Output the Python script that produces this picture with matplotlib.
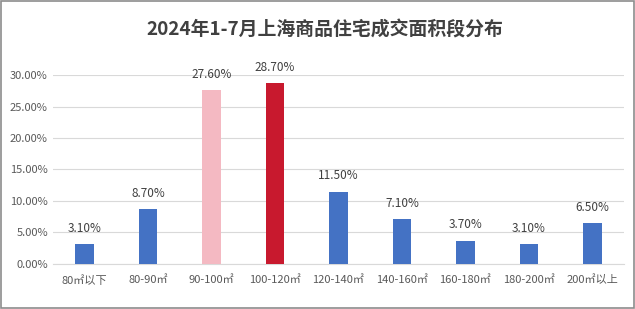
import matplotlib
matplotlib.use('Agg')
import matplotlib.pyplot as plt
from matplotlib.patches import Rectangle

plt.rcParams['font.family'] = ['Noto Sans CJK SC', 'DejaVu Sans']

categories = ['80㎡以下', '80-90㎡', '90-100㎡', '100-120㎡', '120-140㎡',
              '140-160㎡', '160-180㎡', '180-200㎡', '200㎡以上']
shares = [3.1, 8.7, 27.6, 28.7, 11.5, 7.1, 3.7, 3.1, 6.5]
colors = ['#4472C4', '#4472C4', '#F4B9C2', '#C8192E', '#4472C4',
          '#4472C4', '#4472C4', '#4472C4', '#4472C4']

fig = plt.figure(figsize=(6.35, 3.09), dpi=100)
ax = fig.add_axes([0.083, 0.146, 0.9, 0.611])

x = range(len(categories))
ax.bar(x, shares, width=0.285, color=colors, zorder=3)
for i, v in enumerate(shares):
    ax.text(i, v + 1.5, '%.2f%%' % v, ha='center', va='bottom',
            fontsize=8.5, color='#404040')

ax.set_ylim(0, 30)
ax.set_xlim(-0.5, len(categories) - 0.5)
ax.set_yticks([0, 5, 10, 15, 20, 25, 30])
ax.set_yticklabels(['%.2f%%' % t for t in [0, 5, 10, 15, 20, 25, 30]])
ax.set_xticks(list(x))
ax.set_xticklabels(categories)
ax.tick_params(axis='both', length=0, labelsize=8, labelcolor='#595959')
ax.tick_params(axis='x', pad=8)
ax.grid(axis='y', color='#D9D9D9', linewidth=0.8, zorder=0)
for s in ['top', 'right', 'left']:
    ax.spines[s].set_visible(False)
ax.spines['bottom'].set_color('#D9D9D9')

fig.text(0.512, 0.903, '2024年1-7月上海商品住宅成交面积段分布', ha='center', va='center',
         fontsize=13.6, fontweight='bold', color='#404040')

fig.patches.append(Rectangle((0.001, 0.002), 0.997, 0.995, transform=fig.transFigure,
                             fill=False, edgecolor='#8C8C8C', linewidth=1.2))

fig.savefig('out.png', dpi=100)
